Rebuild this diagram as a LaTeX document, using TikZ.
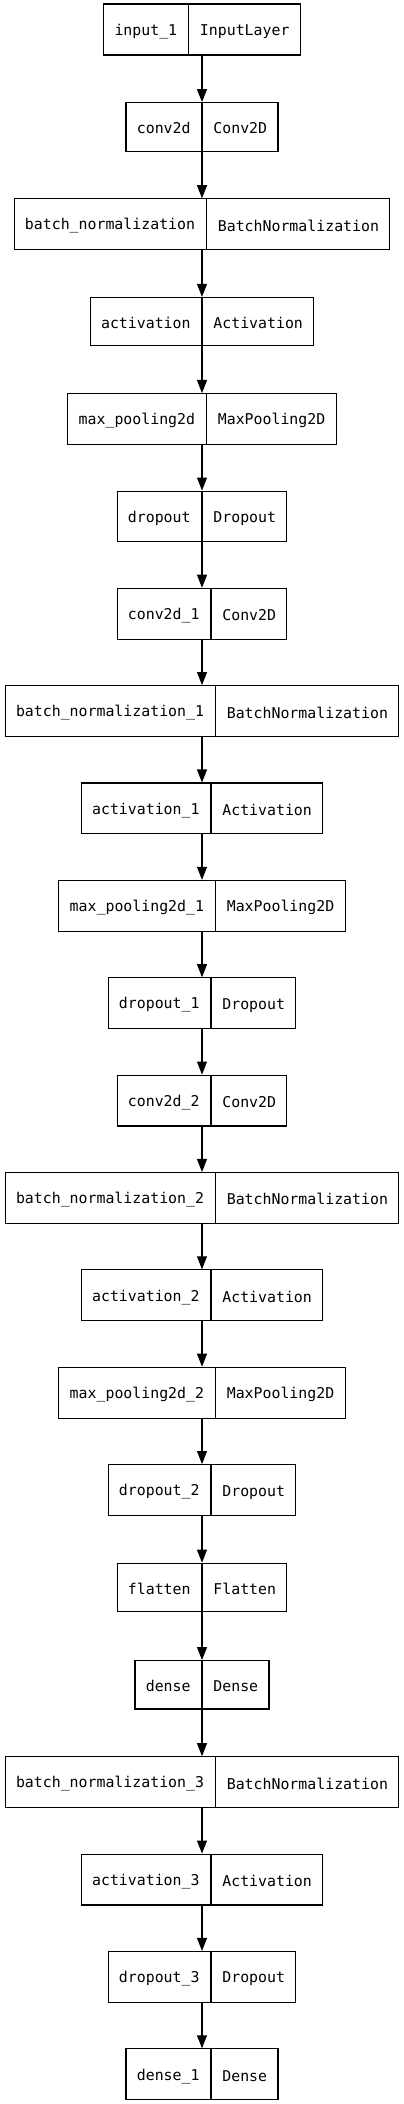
\documentclass[tikz,border=0pt]{standalone}
\usepackage{fontspec}
\newfontfamily\monofam{DejaVu Sans Mono}
\usetikzlibrary{shapes.multipart,arrows.meta}
\tikzset{
  layer/.style={draw=black, line width=1.1pt, rectangle split, rectangle split horizontal,
    rectangle split parts=2, inner xsep=10.85pt, inner ysep=16.2pt,
    font=\monofam\fontsize{14.87}{18}\selectfont},
  link/.style={line width=1.1pt, -{Triangle[length=13pt,width=10pt]}}
}
\newcommand{\lstrut}{\rule[-1pt]{0pt}{16pt}}
\begin{document}
\begin{tikzpicture}[x=1pt,y=1pt]
\useasboundingbox (0,0) rectangle (404,-2104);
\foreach \i/\a/\b in {
0/input\_1/InputLayer,
1/conv2d/Conv2D,
2/batch\_normalization/BatchNormalization,
3/activation/Activation,
4/max\_pooling2d/MaxPooling2D,
5/dropout/Dropout,
6/conv2d\_1/Conv2D,
7/batch\_normalization\_1/BatchNormalization,
8/activation\_1/Activation,
9/max\_pooling2d\_1/MaxPooling2D,
10/dropout\_1/Dropout,
11/conv2d\_2/Conv2D,
12/batch\_normalization\_2/BatchNormalization,
13/activation\_2/Activation,
14/max\_pooling2d\_2/MaxPooling2D,
15/dropout\_2/Dropout,
16/flatten/Flatten,
17/dense/Dense,
18/batch\_normalization\_3/BatchNormalization,
19/activation\_3/Activation,
20/dropout\_3/Dropout,
21/dense\_1/Dense}{
  \node[layer] (n\i) at (202,{-29.5-97.37*\i}) {\lstrut\a\nodepart{two}\lstrut\b};
}
\foreach \i [evaluate=\i as \j using int(\i+1)] in {0,...,20}{
  \draw[link] (n\i.south) -- (n\j.north);
}
\end{tikzpicture}
\end{document}
